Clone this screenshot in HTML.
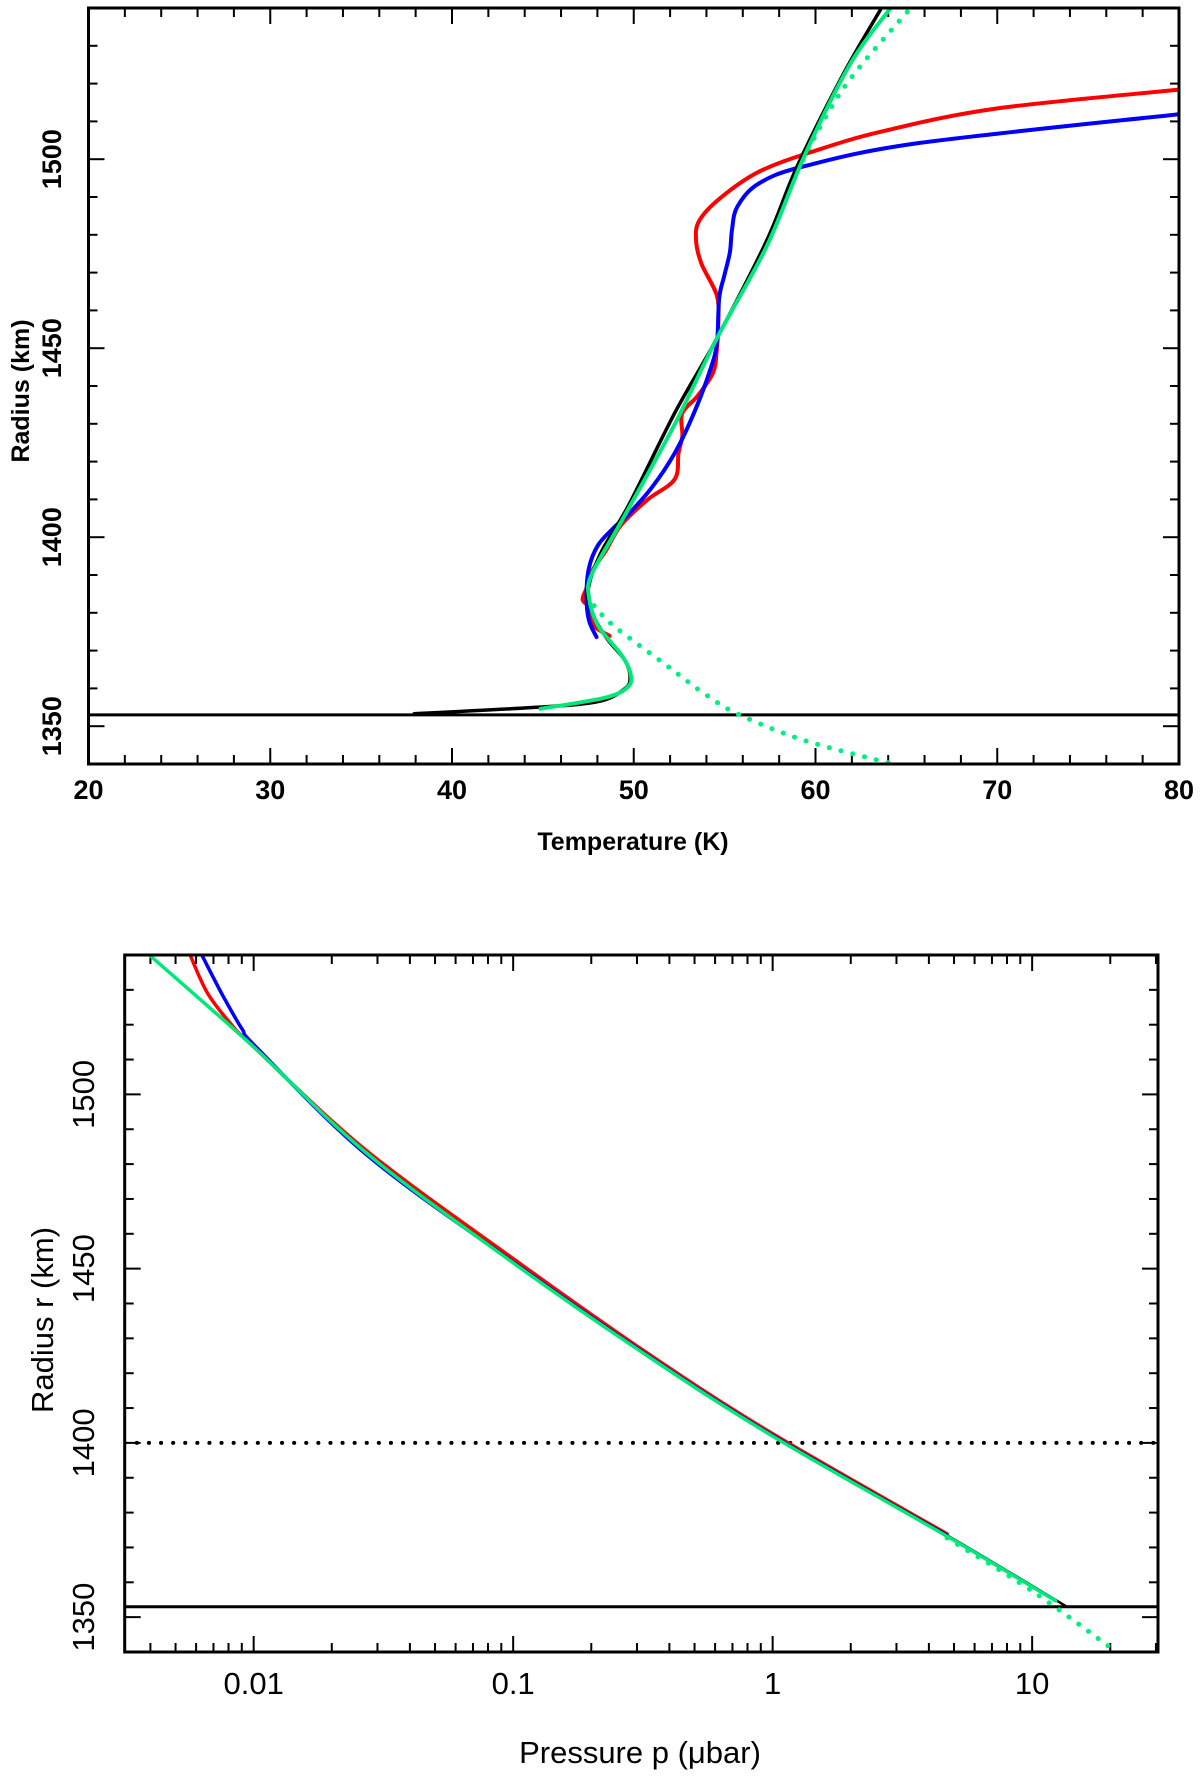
<!DOCTYPE html>
<html><head><meta charset="utf-8"><style>
html,body{margin:0;padding:0;background:#fff;}
svg{display:block;font-family:"Liberation Sans",sans-serif;}
</style></head><body>
<svg id="chart" width="1200" height="1776" viewBox="0 0 1200 1776">
<g id="top"></g>
<g id="bot"></g>
</svg>
<script>
// ---- Top panel data (Temperature K, Radius km) ----
const redT = [48.67,47.82,47.61,47.19,47.40,47.61,48.46,49.30,50.78,52.25,52.46,52.67,52.67,53.52,54.36,54.57,54.65,54.57,53.73,53.43,53.60,54.78,56.89,59.84,63.63,69.96,80.0];
const redR = [1373.9,1376.6,1381.2,1383.4,1386.5,1390.3,1396.4,1403.2,1410.0,1415.3,1422.2,1426.7,1432.8,1437.4,1443.5,1449.5,1457.1,1464.0,1472.3,1478.4,1483.7,1489.8,1496.7,1502.0,1507.3,1513.4,1518.4];
const blueT = [47.95,47.53,47.40,47.53,48.04,48.88,49.72,50.99,52.25,53.31,54.15,54.57,54.70,54.99,55.29,55.41,55.71,56.89,59.42,65.74,80.0];
const blueR = [1373.6,1378.1,1384.2,1391.8,1397.9,1402.4,1406.2,1413.1,1422.2,1432.8,1443.5,1451.1,1463.2,1469.3,1475.4,1481.5,1487.5,1493.6,1498.2,1504.3,1511.9];
const blackT = [37.92,44.66,48.04,49.5,49.8,49.5,48.46,47.61,47.53,48.25,49.72,52.25,54.57,57.31,59.0,61.53,63.63];
const blackR = [1353.3,1355.0,1356.5,1359.9,1362.9,1367.5,1373.6,1381.2,1387.2,1396.4,1408.5,1432.8,1452.6,1478.4,1498.2,1522.5,1540];
const greenT = [44.87,48.46,49.72,49.8,49.3,48.04,47.53,47.7,49.3,52.25,54.57,57.31,59.42,61.95,64.14];
const greenR = [1354.6,1357.6,1360.6,1364.4,1369.0,1376.6,1384.2,1390.3,1404,1429.8,1452.6,1476.9,1501.2,1525.5,1540];
const gDotUpT = [59.0,61.53,65.24];
const gDotUpR = [1497,1518.7,1540];
const gDotLoT = [47.82,48.88,51.83,53.94,55.83,59.42,64.27];
const gDotLoR = [1381.9,1376.6,1366.0,1358.4,1353.0,1346.2,1340];
const surfaceR = 1353;
const topXTicks = [20,30,40,50,60,70,80];
const yTicks = [1350,1400,1450,1500];
// ---- Bottom panel data (Pressure microbar, Radius km) ----
const bBlackP = [0.00395,0.01,0.0271,0.0986,0.321,0.986,4.70,13.6];
const bBlackR = [1540.1,1513.6,1483.5,1452.2,1425.7,1402.4,1373.5,1353];
const bGreenP = [0.00395,0.01,0.0271,0.0986,0.321,0.986,4.70,12.3];
const bGreenR = [1540.1,1513.6,1483.3,1452.0,1425.5,1402.2,1373.2,1354.7];
const bRedP = [0.00569,0.00662,0.00813,0.01,0.0271,0.0986,0.321,0.986,4.70];
const bRedR = [1540,1529.2,1520.4,1513.6,1484.0,1453.2,1426.3,1402.9,1373.9];
const bBlueP = [0.00631,0.0076,0.00902,0.01035,0.0271,0.0986,0.321,0.986,4.70];
const bBlueR = [1540,1528.4,1518.8,1513.2,1482.8,1452.2,1425.7,1402.4,1373.5];
const bGDotP = [4.70,10,21.3];
const bGDotR = [1372.7,1357.5,1339.8];
const refLineR = 1400;
const botXTicks = [0.01,0.1,1,10];
const botXLabels = ["0.01","0.1","1","10"];

const NS="http://www.w3.org/2000/svg";
function mk(parent,tag,attrs){const e=document.createElementNS(NS,tag);for(const k in attrs)e.setAttribute(k,attrs[k]);parent.appendChild(e);return e;}
function smooth(pts){
  if(pts.length<3){return "M"+pts.map(p=>p[0].toFixed(1)+","+p[1].toFixed(1)).join("L");}
  let d="M"+pts[0][0].toFixed(1)+","+pts[0][1].toFixed(1);
  for(let i=0;i<pts.length-1;i++){
    const p0=pts[i-1]||pts[i],p1=pts[i],p2=pts[i+1],p3=pts[i+2]||p2;
    const c1=[p1[0]+(p2[0]-p0[0])/6,p1[1]+(p2[1]-p0[1])/6];
    const c2=[p2[0]-(p3[0]-p1[0])/6,p2[1]-(p3[1]-p1[1])/6];
    d+="C"+c1[0].toFixed(1)+","+c1[1].toFixed(1)+" "+c2[0].toFixed(1)+","+c2[1].toFixed(1)+" "+p2[0].toFixed(1)+","+p2[1].toFixed(1);
  }
  return d;
}

// ===== Top panel =====
const T={L:88.5,R:1179,T:8,B:764,x0:20,x1:80,y0:1340,y1:1540};
const tx=v=>T.L+(v-T.x0)/(T.x1-T.x0)*(T.R-T.L);
const ty=v=>T.B-(v-T.y0)/(T.y1-T.y0)*(T.B-T.T);
const gt=document.getElementById('top');
let clipT=mk(gt,'clipPath',{id:'clipT'});mk(clipT,'rect',{x:T.L,y:T.T,width:T.R-T.L,height:T.B-T.T});
let ticksT=mk(gt,'g',{stroke:'#000','stroke-width':2});


for(let v=20;v<=80;v+=2){const x=tx(v),len=(v%10===0)?16:9;
  mk(ticksT,'line',{x1:x,y1:T.B,x2:x,y2:T.B-len});mk(ticksT,'line',{x1:x,y1:T.T,x2:x,y2:T.T+len});}
for(let v=1340;v<=1540;v+=10){const y=ty(v),len=(v%50===0)?16:9;
  mk(ticksT,'line',{x1:T.L,y1:y,x2:T.L+len,y2:y});mk(ticksT,'line',{x1:T.R,y1:y,x2:T.R-len,y2:y});}
topXTicks.forEach(v=>{const t=mk(gt,'text',{x:tx(v),y:799,'font-size':27,'font-weight':'bold','text-anchor':'middle'});t.textContent=v;
  
  });
yTicks.forEach(v=>{const y=ty(v);const t=mk(gt,'text',{x:0,y:0,'font-size':27,'font-weight':'bold','text-anchor':'middle',transform:`translate(61,${y}) rotate(-90)`});t.textContent=v;
  
  });
let xtT=mk(gt,'text',{x:633,y:850,'font-size':25,'font-weight':'bold','text-anchor':'middle'});xtT.textContent='Temperature (K)';


let ytT=mk(gt,'text',{x:0,y:0,'font-size':25,'font-weight':'bold','text-anchor':'middle',transform:'translate(29,391) rotate(-90)'});ytT.textContent='Radius (km)';


let plotT=mk(gt,'g',{'clip-path':'url(#clipT)',fill:'none','stroke-linejoin':'round','stroke-linecap':'round'});
function seriesT(Ts,Rs,color,w,name,dash){const p=mk(plotT,'path',{d:smooth(Ts.map((t,i)=>[tx(t),ty(Rs[i])])),stroke:color,'stroke-width':w});
  if(dash)p.setAttribute('stroke-dasharray',dash);
  
  }
let sl=mk(plotT,'line',{x1:T.L,x2:T.R,y1:ty(surfaceR),y2:ty(surfaceR),stroke:'#000','stroke-width':3});


seriesT(gDotUpT,gDotUpR,'#00f080',5,'green-dotted-upper','0.1 12');
seriesT(gDotLoT,gDotLoR,'#00f080',5,'green-dotted-lower','0.1 12');
seriesT(redT,redR,'#f00',4,'red-profile');
seriesT(blueT,blueR,'#00f',4,'blue-profile');
seriesT(blackT,blackR,'#000',3.5,'black-profile');
seriesT(greenT,greenR,'#00e87a',4,'green-profile');
let frT=mk(gt,'rect',{x:T.L,y:T.T,width:T.R-T.L,height:T.B-T.T,fill:'none',stroke:'#000','stroke-width':3});



// ===== Bottom panel =====
const B={L:124.7,R:1158,T:955,B:1652,l0:-2.497,l1:1.485,y0:1340,y1:1540};
const bx=v=>B.L+(Math.log10(v)-B.l0)/(B.l1-B.l0)*(B.R-B.L);
const by=v=>B.B-(v-B.y0)/(B.y1-B.y0)*(B.B-B.T);
const gb=document.getElementById('bot');
let clipB=mk(gb,'clipPath',{id:'clipB'});mk(clipB,'rect',{x:B.L,y:B.T,width:B.R-B.L,height:B.B-B.T});
let ticksB=mk(gb,'g',{stroke:'#000','stroke-width':2});


for(let e=-3;e<=1;e++){for(let m=1;m<=9;m++){const v=m*Math.pow(10,e);const lv=Math.log10(v);if(lv<B.l0||lv>B.l1)continue;
  const x=bx(v),len=(m===1)?16:9;
  mk(ticksB,'line',{x1:x,y1:B.B,x2:x,y2:B.B-len});mk(ticksB,'line',{x1:x,y1:B.T,x2:x,y2:B.T+len});}}
for(let v=1340;v<=1540;v+=10){const y=by(v),len=(v%50===0)?16:9;
  mk(ticksB,'line',{x1:B.L,y1:y,x2:B.L+len,y2:y});mk(ticksB,'line',{x1:B.R,y1:y,x2:B.R-len,y2:y});}
botXTicks.forEach((v,i)=>{const t=mk(gb,'text',{x:bx(v),y:1694,'font-size':31,'text-anchor':'middle'});t.textContent=botXLabels[i];
  
  });
yTicks.forEach(v=>{const y=by(v);const t=mk(gb,'text',{x:0,y:0,'font-size':31,'text-anchor':'middle',transform:`translate(94,${y}) rotate(-90)`});t.textContent=v;
  
  });
let xtB=mk(gb,'text',{x:640,y:1763,'font-size':31,'text-anchor':'middle'});xtB.textContent='Pressure p (\u03bcbar)';


let ytB=mk(gb,'text',{x:0,y:0,'font-size':31,'text-anchor':'middle',transform:'translate(53,1320) rotate(-90)'});ytB.textContent='Radius r (km)';


let plotB=mk(gb,'g',{'clip-path':'url(#clipB)',fill:'none','stroke-linejoin':'round','stroke-linecap':'round'});
function seriesB(Ps,Rs,color,w,name,dash){const p=mk(plotB,'path',{d:smooth(Ps.map((v,i)=>[bx(v),by(Rs[i])])),stroke:color,'stroke-width':w});
  if(dash)p.setAttribute('stroke-dasharray',dash);
  
  }
let sl2=mk(plotB,'line',{x1:B.L,x2:B.R,y1:by(surfaceR),y2:by(surfaceR),stroke:'#000','stroke-width':3});


let rl=mk(plotB,'line',{x1:B.L,x2:B.R,y1:by(refLineR),y2:by(refLineR),stroke:'#000','stroke-width':4,'stroke-dasharray':'0.1 12','stroke-linecap':'round'});


seriesB(bGDotP,bGDotR,'#00f080',5,'green-dotted','0.1 12');
seriesB(bRedP,bRedR,'#f00',3.5,'red-profile');
seriesB(bBlueP,bBlueR,'#00f',3.5,'blue-profile');
seriesB(bBlackP,bBlackR,'#000',2.5,'black-profile');
seriesB(bGreenP,bGreenR,'#00e87a',3.5,'green-profile');
let frB=mk(gb,'rect',{x:B.L,y:B.T,width:B.R-B.L,height:B.B-B.T,fill:'none',stroke:'#000','stroke-width':3});


</script>
</body></html>
